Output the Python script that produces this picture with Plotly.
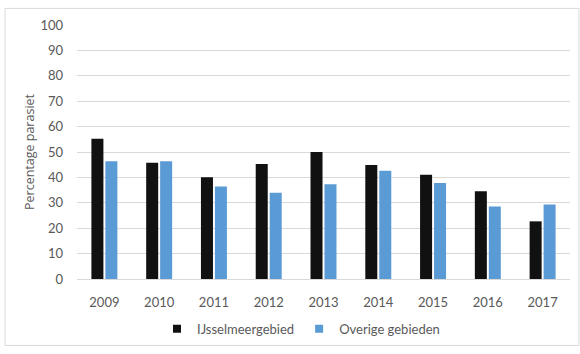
import plotly.graph_objects as go

years = ["2009", "2010", "2011", "2012", "2013", "2014", "2015", "2016", "2017"]
ijsselmeer = [55.2, 45.8, 40.1, 45.3, 50.0, 44.9, 41.0, 34.5, 22.7]
overige = [46.4, 46.4, 36.4, 34.0, 37.3, 42.6, 37.8, 28.5, 29.3]
y_ticks = list(range(0, 101, 10))

series = [("IJsselmeergebied", ijsselmeer, "#111111"),
          ("Overige gebieden", overige, "#5b9bd5")]

W, H = 580, 354
ML, MR, MT, MB = 77, 10, 25, 69
PW, PH = W - ML - MR, H - MT - MB

def px_x(x):
    return (x - ML) / PW

def px_y(y):
    return (H - MB - y) / PH

font = dict(family="Lato, 'Open Sans', sans-serif", size=13, color="#595959")
title_font = dict(family="'Open Sans', sans-serif", size=12.5, color="#595959")

fig = go.Figure()
for name, vals, color in series:
    fig.add_trace(go.Bar(x=years, y=vals, name=name, showlegend=False,
                         marker=dict(color=color, line=dict(width=0))))
# small square swatches for the legend
for name, vals, color in series:
    fig.add_trace(go.Scatter(x=[None], y=[None], name=name, mode="markers",
                             marker=dict(symbol="square", size=8, color=color)))

fig.update_layout(
    width=W, height=H,
    margin=dict(l=ML, r=MR, t=MT, b=MB),
    paper_bgcolor="white", plot_bgcolor="white",
    barmode="group", bargap=0.49, bargroupgap=0.14,
    font=font,
    xaxis=dict(showgrid=False, showline=True, linecolor="#d9d9d9", linewidth=1,
               ticks="", tickfont=font, ticklabelstandoff=11),
    yaxis=dict(range=[0, 100], tickvals=y_ticks, showgrid=True, gridcolor="#d9d9d9",
               gridwidth=1, zeroline=False, showline=False, ticks="", tickfont=font,
               ticklabelstandoff=13,
               title=dict(text="Percentage parasiet", font=title_font, standoff=3)),
    legend=dict(orientation="h", x=px_x(301), xanchor="center", y=px_y(336),
                yanchor="middle", font=font, itemwidth=30, bgcolor="rgba(0,0,0,0)",
                tracegroupgap=0),
    shapes=[dict(type="rect", xref="paper", yref="paper",
                 x0=px_x(5), x1=px_x(579), y0=px_y(353), y1=px_y(8),
                 line=dict(color="#d9d9d9", width=1), fillcolor="rgba(0,0,0,0)",
                 layer="below")],
)

fig.write_html("out.html")
